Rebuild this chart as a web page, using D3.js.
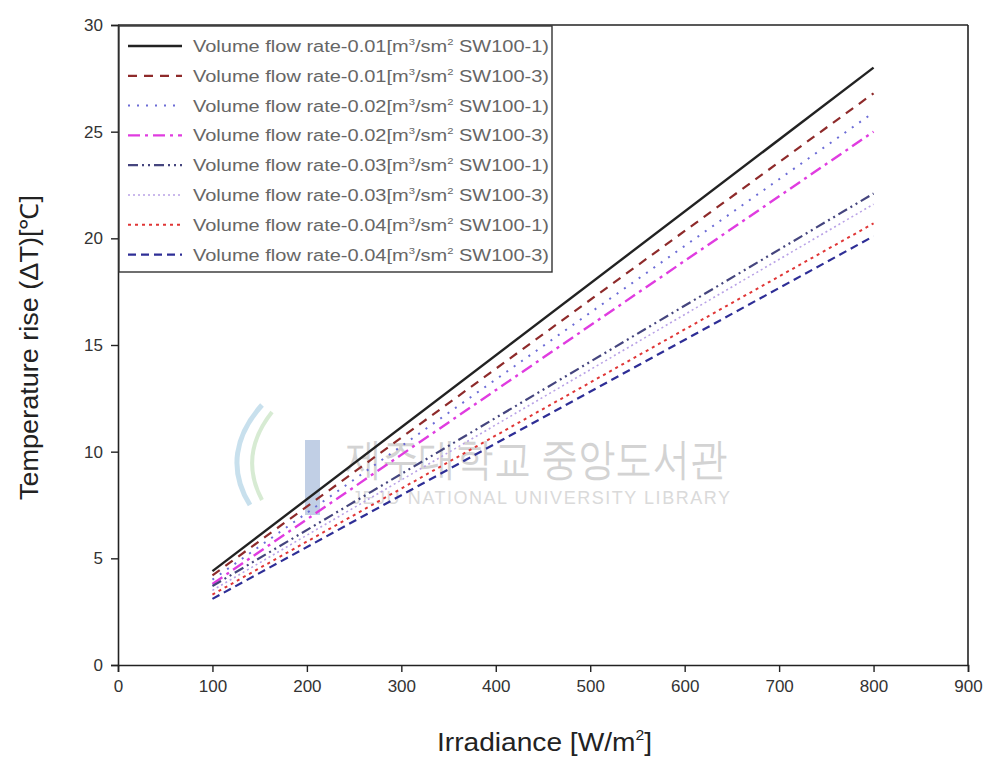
<!DOCTYPE html>
<html>
<head>
<meta charset="utf-8">
<script src="https://cdn.jsdelivr.net/npm/d3@7"></script>
<style>
  body { margin: 0; background: #fff; }
  text { font-family: "Liberation Sans", Arial, sans-serif; }
</style>
</head>
<body>
<div id="chart"></div>
<script>
// data (two end points per line: the lines are straight)
const irradiance = [100, 800];
const seriesNames = [
  ["0.01", "SW100-1"], ["0.01", "SW100-3"],
  ["0.02", "SW100-1"], ["0.02", "SW100-3"],
  ["0.03", "SW100-1"], ["0.03", "SW100-3"],
  ["0.04", "SW100-1"], ["0.04", "SW100-3"]
];
const dT_001_1 = [4.4, 28.0];
const dT_001_3 = [4.2, 26.8];
const dT_002_1 = [4.0, 25.9];
const dT_002_3 = [3.8, 25.0];
const dT_003_1 = [3.7, 22.1];
const dT_003_3 = [3.5, 21.6];
const dT_004_1 = [3.3, 20.7];
const dT_004_3 = [3.1, 20.1];
const xTicks = [0, 100, 200, 300, 400, 500, 600, 700, 800, 900];
const yTicks = [0, 5, 10, 15, 20, 25, 30];

const allSeries = [dT_001_1, dT_001_3, dT_002_1, dT_002_3, dT_003_1, dT_003_3, dT_004_1, dT_004_3];
const styles = [
  { color: "#222222", width: 2.4, dash: null },
  { color: "#8e2a2a", width: 2.2, dash: "9,7" },
  { color: "#6c6cd6", width: 2, dash: "2,7" },
  { color: "#e03ce0", width: 2.4, dash: "12,5,3,5" },
  { color: "#45457e", width: 2.2, dash: "10,4,2,4,2,4" },
  { color: "#b9a2e6", width: 1.6, dash: "2,3" },
  { color: "#e03636", width: 2, dash: "3,4" },
  { color: "#2e2e96", width: 2.2, dash: "8,5" }
];

const W = 992, H = 758;
const svg = d3.select("#chart").append("svg").attr("width", W).attr("height", H);

const x = d3.scaleLinear().domain([0, 900]).range([118, 968]);
const y = d3.scaleLinear().domain([0, 30]).range([665, 25]);

// watermark
const wm = svg.append("g").attr("opacity", 0.55);
wm.append("rect").attr("x", 305).attr("y", 440).attr("width", 15).attr("height", 75).attr("fill", "#8fa8d0");
wm.append("path").attr("d", "M262,405 C235,435 228,470 250,505").attr("fill", "none").attr("stroke", "#9cc8e0").attr("stroke-width", 5);
wm.append("path").attr("d", "M272,412 C250,440 246,470 262,500").attr("fill", "none").attr("stroke", "#b8dcb0").attr("stroke-width", 4);
wm.append("text").attr("x", 345).attr("y", 474).attr("font-size", 44)
  .attr("font-family", "Noto Sans CJK KR").attr("fill", "#b0b0b0")
  .attr("textLength", 382).attr("lengthAdjust", "spacingAndGlyphs").text("제주대학교 중앙도서관");
wm.append("text").attr("x", 352).attr("y", 504).attr("font-size", 18).attr("fill", "#bcbcbc")
  .attr("textLength", 378).text("JEJU NATIONAL UNIVERSITY  LIBRARY");

// lines
const line = d3.line().x((d, i) => x(irradiance[i])).y(d => y(d));
svg.selectAll(".series")
  .data(allSeries)
  .enter()
  .append("path")
  .attr("class", "series")
  .attr("d", d => line(d))
  .attr("fill", "none")
  .attr("stroke", (d, i) => styles[i].color)
  .attr("stroke-width", (d, i) => styles[i].width)
  .attr("stroke-dasharray", (d, i) => styles[i].dash);

// axes
const xAxis = svg.append("g").attr("transform", `translate(0,${y(0)})`)
  .call(d3.axisBottom(x).tickValues(xTicks).tickSize(7).tickPadding(8));
const yAxis = svg.append("g").attr("transform", `translate(${x(0)},0)`)
  .call(d3.axisLeft(y).tickValues(yTicks).tickSize(7).tickPadding(8));
[xAxis, yAxis].forEach(g => {
  g.select(".domain").attr("stroke", "#222").attr("stroke-width", 1.6);
  g.selectAll(".tick line").attr("stroke", "#222").attr("stroke-width", 1.4);
  g.selectAll(".tick text").attr("font-size", 17).attr("fill", "#333")
    .attr("font-family", "Liberation Sans, Arial, sans-serif");
});
// frame top and right
svg.append("line").attr("x1", x(0)).attr("x2", x(900)).attr("y1", y(30)).attr("y2", y(30))
  .attr("stroke", "#222").attr("stroke-width", 1.6);
svg.append("line").attr("x1", x(900)).attr("x2", x(900)).attr("y1", y(30)).attr("y2", y(0))
  .attr("stroke", "#222").attr("stroke-width", 1.6);

// axis titles
const xt = svg.append("text").attr("x", 437).attr("y", 751)
  .attr("font-size", 25).attr("fill", "#222");
xt.append("tspan").text("Irradiance [W/m");
xt.append("tspan").attr("font-size", 14).attr("dy", -11).text("2");
xt.append("tspan").attr("dy", 11).text("]");
xt.attr("textLength", 215).attr("lengthAdjust", "spacingAndGlyphs");

svg.append("text").attr("transform", "translate(38,500) rotate(-90)")
  .attr("font-size", 25).attr("fill", "#222")
  .attr("textLength", 305).attr("lengthAdjust", "spacingAndGlyphs")
  .text("Temperature rise (ΔT)[℃]");

// legend
const leg = svg.append("g");
leg.append("rect").attr("x", 119).attr("y", 26).attr("width", 433).attr("height", 246)
  .attr("fill", "#fff").attr("stroke", "#333").attr("stroke-width", 1.4);
seriesNames.forEach((n, i) => {
  const ly = 46 + i * 29.8;
  leg.append("line").attr("x1", 128).attr("x2", 182).attr("y1", ly).attr("y2", ly)
    .attr("stroke", styles[i].color).attr("stroke-width", styles[i].width)
    .attr("stroke-dasharray", styles[i].dash);
  const t = leg.append("text").attr("x", 193).attr("y", ly + 6).attr("font-size", 16).attr("fill", "#666");
  t.append("tspan").text(`Volume flow rate-${n[0]}[m`);
  t.append("tspan").attr("font-size", 9).attr("dy", -7).text("3");
  t.append("tspan").attr("dy", 7).text("/sm");
  t.append("tspan").attr("font-size", 9).attr("dy", -7).text("2");
  t.append("tspan").attr("dy", 7).text(` ${n[1]})`);
  t.attr("textLength", 356).attr("lengthAdjust", "spacingAndGlyphs");
});
</script>
</body>
</html>
